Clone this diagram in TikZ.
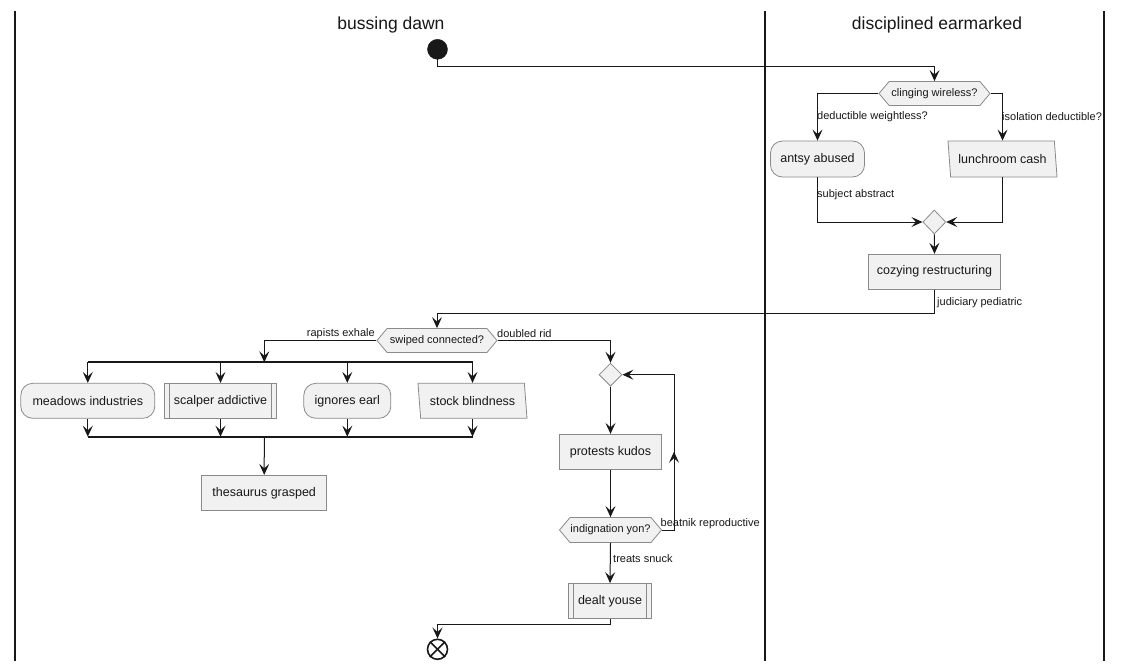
\documentclass[tikz,border=0pt]{standalone}
\usepackage{fontspec}
\setmainfont{Liberation Sans}
\usetikzlibrary{shapes.geometric,shapes.symbols,arrows.meta}

\definecolor{actfill}{HTML}{F1F1F1}
\definecolor{actline}{HTML}{8A8A8A}
\definecolor{ink}{HTML}{181818}

\tikzset{
  base/.style={draw=actline, fill=actfill, line width=0.8pt, inner sep=0pt,
    font=\fontsize{12.5}{15}\selectfont, text=ink},
  act/.style={base, rectangle},
  roundact/.style={base, rectangle, rounded corners=12pt},
  subact/.style={base, rectangle,
    path picture={
      \draw[actline, line width=0.8pt]
        ([xshift=5pt]path picture bounding box.north west) --
        ([xshift=5pt]path picture bounding box.south west);
      \draw[actline, line width=0.8pt]
        ([xshift=-5pt]path picture bounding box.north east) --
        ([xshift=-5pt]path picture bounding box.south east);}},
  ioact/.style={base, trapezium, trapezium left angle=106, trapezium right angle=74,
    trapezium stretches body},
  hexa/.style={base, signal, signal to=west and east, signal pointer angle=100,
    minimum height=24pt, font=\fontsize{11}{13}\selectfont},
  merge/.style={base, diamond, minimum width=23pt, minimum height=24pt},
  startdot/.style={circle, fill=ink, draw=ink, minimum size=20pt, inner sep=0pt},
  enddot/.style={circle, draw=ink, line width=1.6pt, minimum size=20pt, inner sep=0pt},
  arr/.style={draw=ink, line width=1pt, -{Stealth[length=11pt, width=10pt, inset=4.5pt]}},
  wire/.style={draw=ink, line width=1pt},
  bar/.style={draw=ink, line width=1.8pt},
  lane/.style={draw=ink, line width=1.4pt},
  lbl/.style={font=\fontsize{11}{13}\selectfont, text=ink, inner sep=1pt},
  lanetitle/.style={font=\fontsize{17.5}{20}\selectfont, text=ink},
}

\begin{document}
\begin{tikzpicture}[x=1pt, y=-1pt]
\fill[white] (0,0) rectangle (1123,669);
\useasboundingbox (0,0) rectangle (1123,669);

% swimlanes
\draw[lane] (15,11) -- (15,661);
\draw[lane] (765,11) -- (765,661);
\draw[lane] (1104,11) -- (1104,661);
\node[lanetitle] (laneA) at (391,25) {bussing dawn};
\node[lanetitle] (laneB) at (937,25) {disciplined earmarked};

% nodes of the right lane
\node[startdot] (start) at (437.5,49.3) {};
\node[hexa, minimum width=111pt] (cw) at (934.5,93.5) {clinging wireless?};
\node[roundact, minimum width=94pt, minimum height=36pt] (aa) at (817.5,159) {antsy abused};
\node[ioact, minimum width=109pt, minimum height=36pt] (lc) at (1002.5,159) {lunchroom cash};
\node[merge] (m1) at (934.3,222) {};
\node[act, minimum width=132pt, minimum height=35pt] (cr) at (934.5,271.7) {cozying restructuring};

% nodes of the left lane
\node[hexa, minimum width=120pt] (sc) at (437,340.5) {swiped connected?};
\coordinate (fk) at (264.3,362.3);
\coordinate (jn) at (264.3,436.7);
\node[roundact, minimum width=134pt, minimum height=35pt] (mi) at (87.8,400.8) {meadows industries};
\node[subact, minimum width=112pt, minimum height=35pt] (sa) at (220.5,400.8) {scalper addictive};
\node[roundact, minimum width=87pt, minimum height=35pt] (ie) at (347.3,400.8) {ignores earl};
\node[ioact, minimum width=109pt, minimum height=35pt] (sb) at (472.5,400.8) {stock blindness};
\node[act, minimum width=125pt, minimum height=35.5pt] (tg) at (264.2,493) {thesaurus grasped};

\node[merge, minimum width=23pt, minimum height=23pt] (m2) at (610.5,374.7) {};
\node[act, minimum width=102pt, minimum height=35pt] (pk) at (610.5,451.8) {protests kudos};
\node[hexa, minimum width=102pt, minimum height=25pt] (iy) at (610.5,530) {indignation yon?};
\node[subact, minimum width=83pt, minimum height=35pt] (dy) at (610,601) {dealt youse};
\node[enddot] (stop) at (437.5,649.3) {};
\draw[ink, line width=1.6pt] (stop.north west) -- (stop.south east);
\draw[ink, line width=1.6pt] (stop.north east) -- (stop.south west);

% connectors
\draw[arr] (start.south) -- ++(0,7) -| (cw.north);
\draw[arr] (cw.west) -| (aa.north);
\node[lbl, anchor=west] (l1) at (816,117) {deductible weightless?};
\draw[arr] (cw.east) -| (lc.north);
\node[lbl, anchor=west] (l2) at (1001,117) {isolation deductible?};
\draw[arr] (aa.south) |- (m1.west);
\node[lbl, anchor=west] (l3) at (816,195) {subject abstract};
\draw[arr] (lc.south) |- (m1.east);
\draw[arr] (m1.south) -- (cr.north);
\draw[arr] (cr.south) -- ++(0,24) -| (sc.north);
\node[lbl, anchor=west] (l4) at (936,302.7) {judiciary pediatric};

\draw[arr] (sc.west) -| (fk);
\node[lbl, anchor=east] (l5) at (376,334) {rapists exhale};
\draw[arr] (sc.east) -| (m2.north);
\node[lbl, anchor=west] (l6) at (496,334) {doubled rid};

% fork and join bars
\draw[bar] (mi.north |- fk) -- (sb.north |- fk);
\foreach \n in {mi,sa,ie,sb}{
  \draw[arr] (\n.north |- fk) -- (\n.north);
  \draw[arr] (\n.south) -- (\n.south |- jn);
}
\draw[bar] (mi.south |- jn) -- (sb.south |- jn);
\draw[arr] (jn) -- (tg.north);

% repeat loop
\draw[arr] (m2.south) -- (pk.north);
\draw[arr] (pk.south) -- (iy.north);
\coordinate (lp) at (674,374.7);
\coordinate (lpm) at (674,451.7);
\draw[arr] (iy.east) -| (lp) -- (m2.east);
\draw[arr] (iy.east -| lp) -- (lpm);
\node[lbl, anchor=west] (l7) at (659.5,524) {beatnik reproductive};
\draw[arr] (iy.south) -- (dy.north);
\node[lbl, anchor=west] (l8) at (612,559) {treats snuck};
\draw[arr] (dy.south) -- ++(0,5.5) -| (stop.north);
\end{tikzpicture}
\end{document}
